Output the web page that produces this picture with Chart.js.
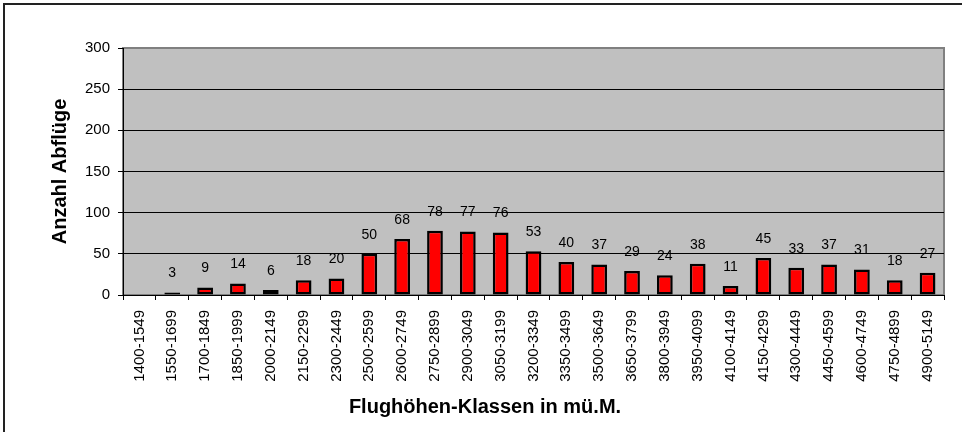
<!DOCTYPE html>
<html>
<head>
<meta charset="utf-8">
<script src="https://cdn.jsdelivr.net/npm/chart.js@4/dist/chart.umd.min.js"></script>
<style>
  html, body { margin: 0; padding: 0; background: #fff; overflow: hidden; }
  canvas { display: block; }
</style>
</head>
<body>
<canvas id="chart" width="962" height="432"></canvas>
<script>
'use strict'

const classes = [
  '1400-1549', '1550-1699', '1700-1849', '1850-1999', '2000-2149', '2150-2299',
  '2300-2449', '2500-2599', '2600-2749', '2750-2899', '2900-3049', '3050-3199',
  '3200-3349', '3350-3499', '3500-3649', '3650-3799', '3800-3949', '3950-4099',
  '4100-4149', '4150-4299', '4300-4449', '4450-4599', '4600-4749', '4750-4899',
  '4900-5149',
];
const abfluege = [0, 3, 9, 14, 6, 18, 20, 50, 68, 78, 77, 76, 53, 40, 37, 29, 24, 38, 11, 45, 33, 37, 31, 18, 27];
const yTicks = [0, 50, 100, 150, 200, 250, 300];

const ctx = document.getElementById('chart')

// outer frame (top/left edge) and grey plot area with a grey frame
const plotArea = {
  id: 'plotArea',
  beforeDraw(chart) {
    const { ctx, chartArea: a } = chart
    ctx.save()
    ctx.strokeStyle = '#222'
    ctx.lineWidth = 2
    ctx.beginPath()
    ctx.moveTo(4, chart.height)
    ctx.lineTo(4, 4)
    ctx.lineTo(chart.width, 4)
    ctx.stroke()

    ctx.fillStyle = '#c0c0c0'
    ctx.fillRect(a.left, a.top, a.right - a.left, a.bottom - a.top)
    ctx.strokeStyle = '#808080'
    ctx.lineWidth = 2
    ctx.strokeRect(a.left, a.top, a.right - a.left, a.bottom - a.top)
    ctx.restore()
  }
}

// value labels above the bars
const valueLabels = {
  id: 'valueLabels',
  afterDatasetsDraw(chart) {
    const { ctx } = chart
    const meta = chart.getDatasetMeta(0)
    ctx.save()
    ctx.font = '14px Arial, "Liberation Sans", sans-serif'
    ctx.fillStyle = '#000'
    ctx.textAlign = 'center'
    ctx.textBaseline = 'middle'
    meta.data.forEach((bar, i) => {
      const v = abfluege[i]
      if (!v) return
      ctx.fillText(String(v), bar.x, bar.y - 19)
    })
    ctx.restore()
  }
}

const chart = new Chart(ctx, {
  type: 'bar',
  data: {
    labels: classes,
    datasets: [{
      data: abfluege,
      backgroundColor: '#ff0000',
      borderColor: '#000000',
      borderWidth: (c) => (abfluege[c.dataIndex] ? 2.5 : 0),
      borderSkipped: false,
      categoryPercentage: 1,
      barPercentage: 0.48,
    }]
  },
  options: {
    responsive: false,
    animation: false,
    layout: { padding: { top: 48, right: 18, left: 26, bottom: 0 } },
    plugins: {
      legend: { display: false },
      tooltip: { enabled: false },
      title: {
        display: true,
        position: 'bottom',
        text: 'Flughöhen-Klassen in mü.M.',
        color: '#000',
        font: { family: 'Arial, "Liberation Sans", sans-serif', size: 20, weight: 'bold' },
        padding: { top: 0, bottom: 13 },
      }
    },
    scales: {
      x: {
        afterFit(scale) { scale.height = 432 - 295 - 37 },
        grid: { drawOnChartArea: false, drawTicks: true, tickLength: 5, color: '#000', offset: true },
        border: { display: true, color: '#000', width: 1 },
        ticks: {
          minRotation: 90, maxRotation: 90, autoSkip: false, padding: 10,
          color: '#000',
          font: { family: 'Arial, "Liberation Sans", sans-serif', size: 15 },
        },
      },
      y: {
        min: 0,
        max: 300,
        afterFit(scale) { scale.width = 97 },
        afterBuildTicks(scale) { scale.ticks = yTicks.map(v => ({ value: v })) },
        grid: {
          color: (c) => (c.tick && c.tick.value === 300 ? 'rgba(0,0,0,0)' : '#000'),
          tickColor: '#000',
          tickLength: 5,
        },
        border: { display: true, color: '#000', width: 1 },
        ticks: {
          padding: 8,
          color: '#000',
          font: { family: 'Arial, "Liberation Sans", sans-serif', size: 15 },
        },
        title: {
          display: true,
          text: 'Anzahl Abflüge',
          color: '#000',
          font: { family: 'Arial, "Liberation Sans", sans-serif', size: 20, weight: 'bold' },
          padding: { top: 22, bottom: 0 },
        }
      }
    }
  },
  plugins: [plotArea, valueLabels]
})
</script>
</body>
</html>
